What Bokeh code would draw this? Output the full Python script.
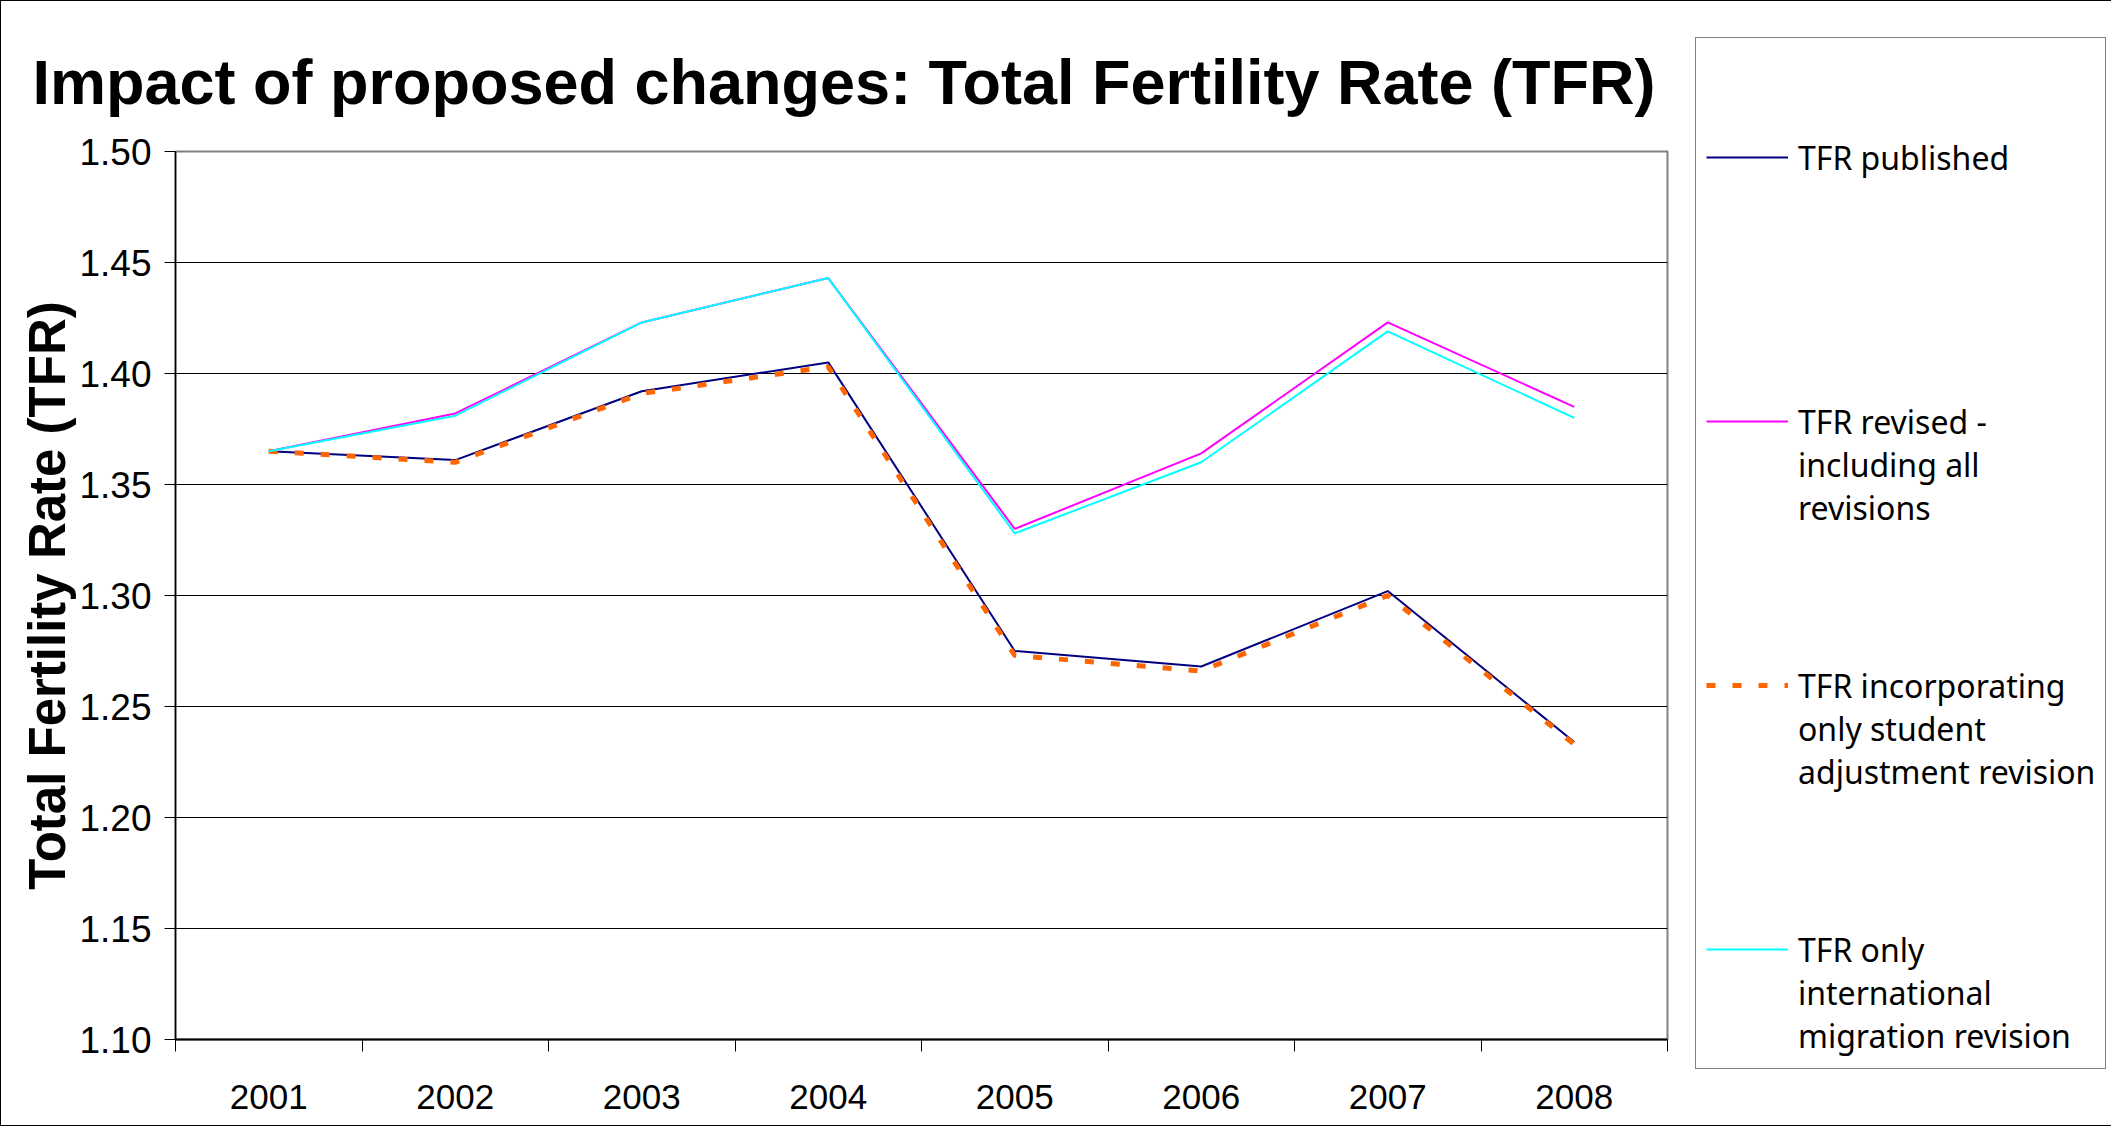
from bokeh.plotting import figure
from bokeh.models import (Range1d, FixedTicker, Legend, LegendItem, ColumnDataSource)
from bokeh.embed import file_html
from bokeh.resources import INLINE

# ---- data ----
years = ["2001", "2002", "2003", "2004", "2005", "2006", "2007", "2008"]
tfr_published = [1.365, 1.361, 1.392, 1.405, 1.275, 1.268, 1.302, 1.234]
tfr_revised = [1.365, 1.382, 1.423, 1.443, 1.330, 1.364, 1.423, 1.385]
tfr_student = [1.365, 1.360, 1.391, 1.403, 1.273, 1.266, 1.300, 1.233]
tfr_migration = [1.365, 1.381, 1.423, 1.443, 1.328, 1.360, 1.419, 1.380]
y_ticks = [1.10, 1.15, 1.20, 1.25, 1.30, 1.35, 1.40, 1.45, 1.50]

# legend texts (leading blank lines keep each sample line level with the first text line)
labels = [
    "TFR published",
    "\n\nTFR revised -\nincluding all\nrevisions",
    "\n\nTFR incorporating\nonly student\nadjustment revision",
    "\n\nTFR only\ninternational\nmigration revision",
]

xc = [i + 0.5 for i in range(len(years))]
src = ColumnDataSource(dict(x=xc, pub=tfr_published, rev=tfr_revised,
                            stu=tfr_student, mig=tfr_migration))

FONT = "Liberation Sans"

p = figure(frame_width=1492, frame_height=888,
           min_border_left=174, min_border_top=150,
           min_border_right=436, min_border_bottom=86,
           x_range=Range1d(0, len(years)), y_range=Range1d(1.10, 1.50),
           output_backend="svg", toolbar_location=None,
           title="Impact of proposed changes: Total Fertility Rate (TFR)")

p.styles = {"border": "1px solid black"}
p.background_fill_color = "white"
p.border_fill_color = "white"
p.outline_line_color = "#808080"
p.outline_line_width = 2

p.title.text_font = FONT
p.title.text_font_style = "bold"
p.title.text_font_size = "63px"
p.title.text_color = "black"
p.title.align = "left"
p.title.offset = -143
p.title.standoff = 69

# x axis
p.xaxis.ticker = FixedTicker(ticks=xc, minor_ticks=list(range(len(years) + 1)))
p.xaxis.major_label_overrides = {x: y for x, y in zip(xc, years)}
p.xaxis.major_tick_out = 0
p.xaxis.major_tick_in = 0
p.xaxis.minor_tick_out = 12
p.xaxis.minor_tick_in = 0
p.xaxis.minor_tick_line_color = "black"
p.xaxis.minor_tick_line_width = 1
p.xaxis.axis_line_color = "black"
p.xaxis.axis_line_width = 2
p.xaxis.major_label_text_font = FONT
p.xaxis.major_label_text_font_size = "35px"
p.xaxis.major_label_text_color = "black"
p.xaxis.major_label_standoff = 33
p.xgrid.grid_line_color = None

# y axis
p.yaxis.ticker = FixedTicker(ticks=y_ticks)
p.yaxis.major_label_overrides = {t: f"{t:.2f}" for t in y_ticks}
p.yaxis.major_tick_out = 11
p.yaxis.major_tick_in = 0
p.yaxis.major_tick_line_color = "black"
p.yaxis.minor_tick_line_color = None
p.yaxis.axis_line_color = "black"
p.yaxis.axis_line_width = 1.5
p.yaxis.major_label_text_font = FONT
p.yaxis.major_label_text_font_size = "37px"
p.yaxis.major_label_text_color = "black"
p.yaxis.major_label_standoff = 13
p.yaxis.axis_label = "Total Fertility Rate (TFR)"
p.yaxis.axis_label_text_font = FONT
p.yaxis.axis_label_text_font_style = "bold"
p.yaxis.axis_label_text_font_size = "51px"
p.yaxis.axis_label_text_color = "black"
p.yaxis.axis_label_standoff = 0
p.ygrid.grid_line_color = "black"
p.ygrid.grid_line_width = 1.2
p.ygrid.ticker = FixedTicker(ticks=y_ticks)

r_pub = p.line("x", "pub", source=src, line_color="#000080", line_width=2)
r_rev = p.line("x", "rev", source=src, line_color="#FF00FF", line_width=2)
r_stu = p.line("x", "stu", source=src, line_color="#FF6600", line_width=5,
               line_dash="9 17")
r_mig = p.line("x", "mig", source=src, line_color="#00FFFF", line_width=2)

legend = Legend(items=[
    LegendItem(label=labels[0], renderers=[r_pub]),
    LegendItem(label=labels[1], renderers=[r_rev]),
    LegendItem(label=labels[2], renderers=[r_stu]),
    LegendItem(label=labels[3], renderers=[r_mig]),
], location=(28, -30))
legend.label_text_font = "Noto Sans"
legend.label_text_font_size = "32px"
legend.label_text_color = "black"
legend.glyph_width = 82
legend.glyph_height = 30
legend.label_standoff = 10
legend.label_height = 218
legend.padding = 10
legend.spacing = 46
legend.margin = 0
legend.border_line_color = "black"
legend.border_line_width = 1
legend.background_fill_color = "white"
legend.background_fill_alpha = 1
p.add_layout(legend, "right")

open("out.html", "w").write(file_html(p, INLINE))
